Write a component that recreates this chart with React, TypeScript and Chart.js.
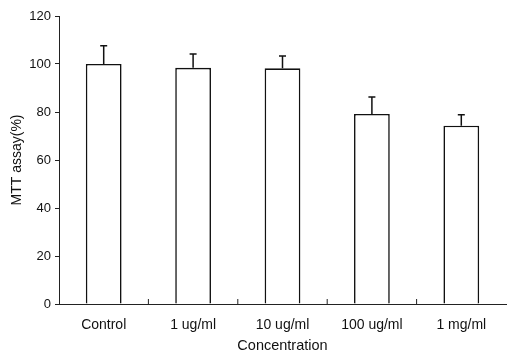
import React, { useEffect, useRef } from "react";
import { Chart, registerables } from "chart.js";

Chart.register(...registerables);

const categories = ["Control", "1 ug/ml", "10 ug/ml", "100 ug/ml", "1 mg/ml"];
const means = [100, 98.4, 98.2, 79.2, 74.3];
const errorTops = [107.6, 104.2, 103.3, 86.2, 78.9];
const yTicks = [0, 20, 40, 60, 80, 100, 120];

const errorBarPlugin = {
  id: "errorBars",
  afterDatasetsDraw(chart: any) {
    const { ctx, scales } = chart;
    const x = scales.x;
    const y = scales.y;
    ctx.save();
    ctx.strokeStyle = "#111";
    ctx.lineWidth = 1.5;
    means.forEach((m, i) => {
      const px = x.getPixelForValue(i);
      const y0 = y.getPixelForValue(m);
      const y1 = y.getPixelForValue(errorTops[i]);
      ctx.beginPath();
      ctx.moveTo(px, y0);
      ctx.lineTo(px, y1);
      ctx.moveTo(px - 3.5, y1);
      ctx.lineTo(px + 3.5, y1);
      ctx.stroke();
    });
    // small inward tick marks at category boundaries
    ctx.lineWidth = 1;
    ctx.strokeStyle = "#222";
    const base = y.getPixelForValue(0);
    for (let i = 0; i < categories.length - 1; i++) {
      const bx = (x.getPixelForValue(i) + x.getPixelForValue(i + 1)) / 2;
      ctx.beginPath();
      ctx.moveTo(bx, base);
      ctx.lineTo(bx, base - 5);
      ctx.stroke();
    }
    ctx.restore();
  },
};

export default function App() {
  const ref = useRef<HTMLCanvasElement>(null);
  useEffect(() => {
    if (!ref.current) return;
    const chart = new Chart(ref.current, {
      type: "bar",
      data: {
        labels: categories,
        datasets: [
          {
            data: means,
            backgroundColor: "#ffffff",
            borderColor: "#111",
            borderWidth: 1.6,
            categoryPercentage: 1,
            barPercentage: 0.4,
          },
        ],
      },
      options: {
        responsive: false,
        animation: false,
        layout: { padding: { top: 16, right: 1, bottom: 0, left: 0 } },
        plugins: { legend: { display: false }, tooltip: { enabled: false } },
        scales: {
          x: {
            afterFit(scale: any) {
              scale.height = 51;
            },
            grid: { display: false, drawTicks: false },
            border: { display: true, color: "#222", width: 1 },
            ticks: {
              padding: 13,
              color: "#111",
              font: { family: "'Liberation Sans', Arial, sans-serif", size: 14 },
            },
            title: {
              display: true,
              text: "Concentration",
              color: "#111",
              padding: { top: 0, bottom: 0 },
              font: { family: "'Liberation Sans', Arial, sans-serif", size: 14.5 },
            },
          },
          y: {
            min: 0,
            max: 120,
            afterFit(scale: any) {
              scale.width = 59;
            },
            afterBuildTicks(scale: any) {
              scale.ticks = yTicks.map((v) => ({ value: v }));
            },
            grid: {
              display: true,
              drawOnChartArea: false,
              drawTicks: true,
              tickLength: 4,
              color: "#222",
            },
            border: { display: true, color: "#222", width: 1 },
            ticks: {
              padding: 4,
              color: "#111",
              font: { family: "'Liberation Sans', Arial, sans-serif", size: 13 },
            },
            title: {
              display: true,
              text: "MTT assay(%)",
              color: "#111",
              padding: { top: 8.5, bottom: 0 },
              font: { family: "'Liberation Sans', Arial, sans-serif", size: 14 },
            },
          },
        },
      },
      plugins: [errorBarPlugin],
    });
    return () => chart.destroy();
  }, []);
  return (
    <div style={{ position: "absolute", left: 0, top: 0, width: 507, height: 355, background: "#fff" }}>
      <canvas ref={ref} width={507} height={355} />
    </div>
  );
}
